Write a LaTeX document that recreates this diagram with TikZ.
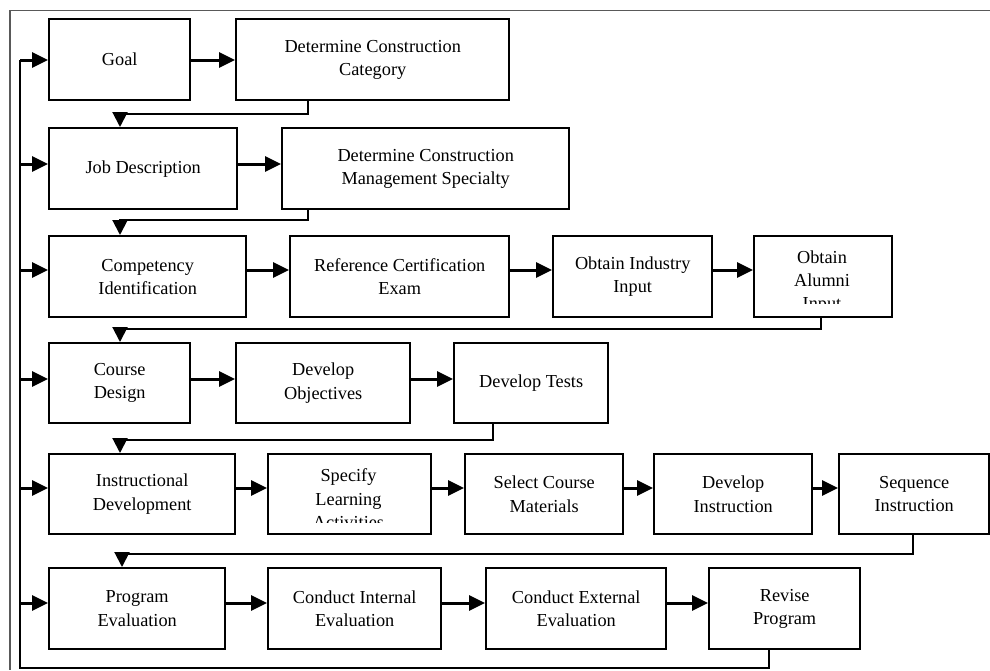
\documentclass[tikz,border=0pt]{standalone}
\usepackage{fontspec}
\setmainfont{Liberation Serif}
\usetikzlibrary{arrows.meta}
\begin{document}
\begin{tikzpicture}[x=1pt,y=-1pt,
  box/.style={draw, line width=2.4pt, anchor=north west, inner sep=0pt, align=center,
    font=\fontsize{18.3}{23.3}\selectfont},
  txt/.style={anchor=north, inner sep=0pt, align=center, font=\fontsize{18.3}{23.3}\selectfont},
  flow/.style={line width=3pt, -{Triangle[length=16pt,width=15pt]}},
  down/.style={line width=2pt, -{Triangle[length=15pt,width=15pt]}},
  ret/.style={line width=2pt},
  frame/.style={draw=black!65, line width=1.2pt}]
\useasboundingbox (0,0) rectangle (990,670);
\draw[frame] (990,10.5) -- (10,10.5) -- (10,670);
% row 1
\node[box, minimum width=141, minimum height=81] (goal) at (48,18) {Goal};
\node[box, minimum width=273, minimum height=81] (dcc) at (235,18) {Determine Construction\\Category};
% row 2
\node[box, minimum width=188, minimum height=81] (jd) at (48,127) {Job Description};
\node[box, minimum width=287, minimum height=81] (dcms) at (281,127) {Determine Construction\\Management Specialty};
% row 3
\node[box, minimum width=197, minimum height=81] (comp) at (48,235) {Competency\\Identification};
\node[box, minimum width=219, minimum height=81] (rce) at (289,235) {Reference Certification\\Exam};
\node[box, minimum width=159, minimum height=81] (oii) at (552,235) {Obtain Industry\\Input};
\node[box, minimum width=138, minimum height=81] (oai) at (753,235) {};
\begin{scope}
\clip (753,235) rectangle (891,303.3);
\node[txt] (oait) at (822,250.4) {Obtain\\Alumni\\Input};
\end{scope}
% row 4
\node[box, minimum width=141, minimum height=80] (cd) at (48,342) {Course\\Design};
\node[box, minimum width=174, minimum height=80] (dobj) at (235,342) {Develop\\Objectives};
\node[box, minimum width=154, minimum height=80] (dt) at (453,342) {Develop Tests};
% row 5
\node[box, minimum width=186, minimum height=80] (idv) at (48,453) {Instructional\\Development};
\node[box, minimum width=163, minimum height=80] (sla) at (267,453) {};
\begin{scope}
\clip (267,453) rectangle (430,522.3);
\node[txt] (slat) at (348.5,468.7) {Specify\\Learning\\Activities};
\end{scope}
\node[box, minimum width=158, minimum height=80] (scm) at (464,453) {Select Course\\Materials};
\node[box, minimum width=158, minimum height=80] (di) at (653,453) {Develop\\Instruction};
\node[box, minimum width=150, minimum height=80] (si) at (838,453) {Sequence\\Instruction};
% row 6
\node[box, minimum width=176, minimum height=81] (pe) at (48,567) {Program\\Evaluation};
\node[box, minimum width=173, minimum height=81] (cie) at (267,567) {Conduct Internal\\Evaluation};
\node[box, minimum width=180, minimum height=81] (cee) at (485,567) {Conduct External\\Evaluation};
\node[box, minimum width=151, minimum height=81] (rp) at (708,567) {Revise\\Program};
% horizontal flows
\draw[flow] (goal.east |- 0,60) -- (dcc.west |- 0,60);
\draw[flow] (jd.east |- 0,164) -- (dcms.west |- 0,164);
\draw[flow] (comp.east |- 0,270) -- (rce.west |- 0,270);
\draw[flow] (rce.east |- 0,270) -- (oii.west |- 0,270);
\draw[flow] (oii.east |- 0,270) -- (oai.west |- 0,270);
\draw[flow] (cd.east |- 0,379) -- (dobj.west |- 0,379);
\draw[flow] (dobj.east |- 0,379) -- (dt.west |- 0,379);
\draw[flow] (idv.east |- 0,488) -- (sla.west |- 0,488);
\draw[flow] (sla.east |- 0,488) -- (scm.west |- 0,488);
\draw[flow] (scm.east |- 0,488) -- (di.west |- 0,488);
\draw[flow] (di.east |- 0,488) -- (si.west |- 0,488);
\draw[flow] (pe.east |- 0,603) -- (cie.west |- 0,603);
\draw[flow] (cie.east |- 0,603) -- (cee.west |- 0,603);
\draw[flow] (cee.east |- 0,603) -- (rp.west |- 0,603);
% row-to-row connectors
\draw[down] (308,0 |- dcc.south) |- (120,114) -- (120,0 |- jd.north);
\draw[down] (308,0 |- dcms.south) |- (120,220) -- (120,0 |- comp.north);
\draw[down] (821,0 |- oai.south) |- (120,329) -- (120,0 |- cd.north);
\draw[down] (493,0 |- dt.south) |- (120,440) -- (120,0 |- idv.north);
\draw[down] (913,0 |- si.south) |- (122,554) -- (122,0 |- pe.north);
% return loop
\coordinate (lb) at (20,668);
\coordinate (lt) at (20,60);
\draw[ret] (769,0 |- rp.south) |- (lb) -- (lt);
\draw[flow] (lt) -- (goal.west |- lt);
\draw[flow] (20,164) -- (jd.west |- 0,164);
\draw[flow] (20,270) -- (comp.west |- 0,270);
\draw[flow] (20,379) -- (cd.west |- 0,379);
\draw[flow] (20,488) -- (idv.west |- 0,488);
\draw[flow] (20,603) -- (pe.west |- 0,603);
\end{tikzpicture}
\end{document}
